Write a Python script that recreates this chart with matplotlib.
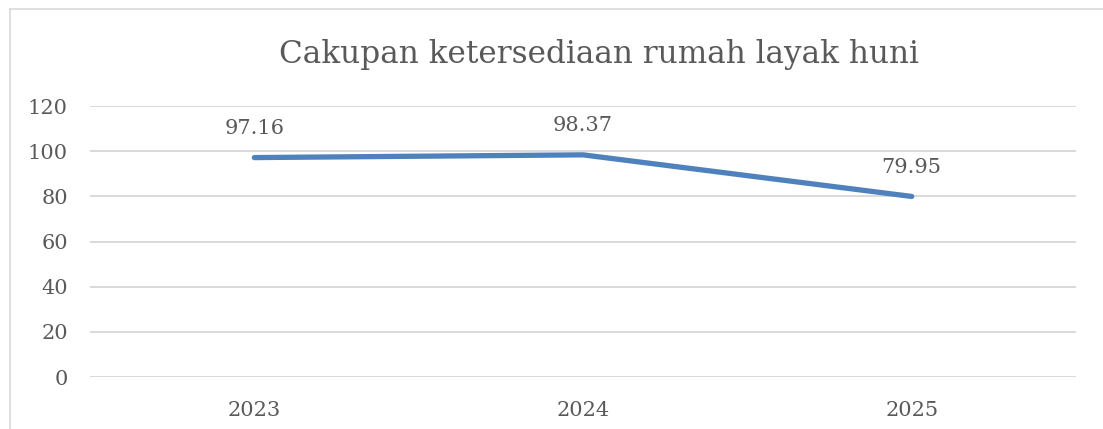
import matplotlib.pyplot as plt
from matplotlib.lines import Line2D

years = ['2023', '2024', '2025']
values = [97.16, 98.37, 79.95]
y_ticks = [0, 20, 40, 60, 80, 100, 120]

plt.rcParams['font.family'] = ['DejaVu Serif']
text_color = '#595959'

fig = plt.figure(figsize=(11.03, 4.29), dpi=100)
ax = fig.add_axes([0.0816, 0.1212, 0.894, 0.6317])

# рамка области диаграммы (видны только левая и верхняя стороны)
fig.add_artist(Line2D([10 / 1103, 10 / 1103], [0, 1 - 9 / 429], color='#d9d9d9', lw=1.2))
fig.add_artist(Line2D([10 / 1103, 1], [1 - 9 / 429, 1 - 9 / 429], color='#d9d9d9', lw=1.2))

x = list(range(len(years)))
ax.plot(x, values, color='#4f81bd', lw=3.8, solid_capstyle='round', solid_joinstyle='round', zorder=3)

for xi, v in zip(x, values):
    ax.annotate(f'{v:.2f}', (xi, v), xytext=(0, 21), textcoords='offset points',
                ha='center', va='center', fontsize=15, color=text_color)

ax.set_xlim(-0.5, len(years) - 0.5)
ax.set_ylim(0, 120)
ax.set_xticks(x)
ax.set_xticklabels(years)
ax.set_yticks(y_ticks)
ax.tick_params(length=0, labelsize=15, labelcolor=text_color)
ax.tick_params(axis='x', pad=17)
ax.tick_params(axis='y', pad=16)
ax.grid(axis='y', color='#d9d9d9', lw=1.4)
ax.set_axisbelow(True)
for s in ax.spines.values():
    s.set_visible(False)

fig.text(0.5435, 1 - 54 / 429, 'Cakupan ketersediaan rumah layak huni', ha='center', va='center',
         fontsize=22.4, color=text_color)

plt.savefig('out.png', dpi=100)
